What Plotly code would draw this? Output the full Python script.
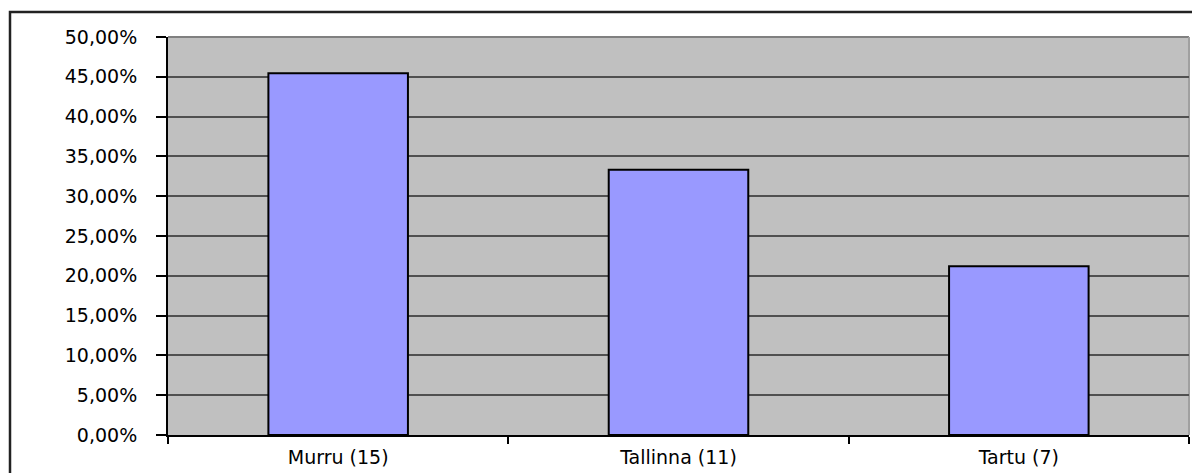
import plotly.graph_objects as go

categories = ["Murru (15)", "Tallinna (11)", "Tartu (7)"]
shares = [0.4545, 0.3333, 0.2121]

# page body has an 8px margin, so work in figure coordinates
OFF = 8
W, H = 1200 - OFF, 473 - OFF
L, R, T, B = 168 - OFF, 1189 - OFF, 37 - OFF, 435 - OFF

fig = go.Figure(go.Bar(
    x=categories, y=shares, width=0.41,
    marker=dict(color="#9999FF", line=dict(color="black", width=2)),
))

def px_x(p):
    return (p - OFF - L) / (R - L)

def px_y(p):
    return (B - (p - OFF)) / (B - T)

shapes = [
    dict(type="rect", xref="paper", yref="paper",
         x0=px_x(10), x1=px_x(1215), y0=px_y(495), y1=px_y(12),
         line=dict(color="#222222", width=2.5), layer="above"),
    dict(type="line", xref="paper", yref="paper", x0=0, x1=1, y0=1, y1=1,
         line=dict(color="#808080", width=2), layer="below"),
    dict(type="line", xref="paper", yref="paper", x0=1, x1=1, y0=0, y1=1,
         line=dict(color="#A0A0A0", width=2), layer="below"),
]

fig.update_layout(
    width=W, height=H,
    margin=dict(l=L, r=W - R, t=T, b=H - B, pad=0, autoexpand=False),
    paper_bgcolor="white", plot_bgcolor="#C0C0C0",
    separators=", ",
    font=dict(family="DejaVu Sans, Arial, sans-serif", size=19, color="black"),
    showlegend=False,
    bargap=0.59,
    shapes=shapes,
    xaxis=dict(
        automargin=False,
        showgrid=False, showline=True, linecolor="black", linewidth=2,
        ticks="outside", tickson="boundaries", ticklen=7, tickwidth=1.5,
        tickcolor="black", tickfont=dict(size=19), ticklabelstandoff=4,
    ),
    yaxis=dict(
        automargin=False,
        range=[0, 0.5], dtick=0.05, tickformat=".2%",
        showgrid=True, gridcolor="#505050", gridwidth=1.5,
        showline=True, linecolor="black", linewidth=2,
        ticks="outside", ticklen=10, tickwidth=1.5, tickcolor="black",
        zeroline=False, tickfont=dict(size=19), ticklabelstandoff=15,
    ),
)

fig.write_html("out.html")
